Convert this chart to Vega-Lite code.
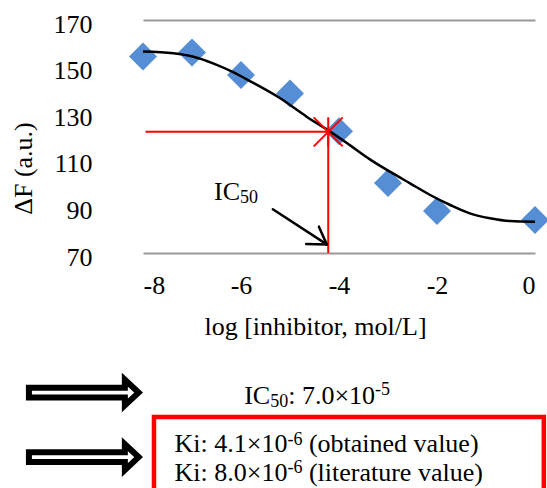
{
  "$schema": "https://vega.github.io/schema/vega-lite/v6.json",
  "width": 392,
  "height": 233,
  "autosize": {"type": "none"},
  "padding": {"left": 143, "top": 20, "right": 12, "bottom": 235},
  "background": "white",
  "config": {"view": {"stroke": null}, "font": "Liberation Serif"},
  "datasets": {
    "points": [
      {"log_conc": -8, "dF": 154.3},
      {"log_conc": -7, "dF": 156.1},
      {"log_conc": -6, "dF": 146.4},
      {"log_conc": -5, "dF": 138.5},
      {"log_conc": -4, "dF": 122.3},
      {"log_conc": -3, "dF": 100.0},
      {"log_conc": -2, "dF": 88.0},
      {"log_conc": 0, "dF": 84.2}
    ],
    "fit": [
      {"log_conc": -8.0, "dF": 156.5},
      {"log_conc": -7.38, "dF": 155.7},
      {"log_conc": -6.97, "dF": 154.2},
      {"log_conc": -6.57, "dF": 151.4},
      {"log_conc": -6.16, "dF": 147.6},
      {"log_conc": -5.82, "dF": 143.8},
      {"log_conc": -5.2, "dF": 136.4},
      {"log_conc": -4.66, "dF": 128.5},
      {"log_conc": -4.18, "dF": 122.1},
      {"log_conc": -3.78, "dF": 116.3},
      {"log_conc": -3.37, "dF": 110.2},
      {"log_conc": -2.96, "dF": 104.9},
      {"log_conc": -2.55, "dF": 99.9},
      {"log_conc": -2.14, "dF": 94.9},
      {"log_conc": -1.73, "dF": 90.6},
      {"log_conc": -1.33, "dF": 87.0},
      {"log_conc": -0.92, "dF": 84.9},
      {"log_conc": -0.51, "dF": 83.7},
      {"log_conc": 0, "dF": 83.4}
    ],
    "ic50_guides": [
      {"x": -7.95, "y": 122.0, "x2": -4.22, "y2": 122.0},
      {"x": -4.22, "y": 70, "x2": -4.22, "y2": 122.0}
    ],
    "ic50_point": [{"x": -4.22, "y": 122.0}],
    "pointer": [
      {"x": -5.35, "y": 88.8, "x2": -4.25, "y2": 73.7},
      {"x": -4.67, "y": 73.9, "x2": -4.25, "y2": 73.7},
      {"x": -4.41, "y": 81.3, "x2": -4.25, "y2": 73.7}
    ],
    "labels": [
      {"text": "IC", "x": -6.551, "y": 92.75, "role": "main"},
      {"text": "50", "x": -6.02, "y": 91.25, "role": "script"},
      {"text": "IC", "x": -5.935, "y": 5.2, "role": "main"},
      {"text": "50", "x": -5.404, "y": 3.9, "role": "script"},
      {"text": ": 7.0×10", "x": -5.037, "y": 5.2, "role": "main"},
      {"text": "-5", "x": -3.263, "y": 9.06, "role": "script"},
      {"text": "Ki: 4.1×10", "x": -7.357, "y": -15.6, "role": "main"},
      {"text": "-6", "x": -5.053, "y": -12.2, "role": "script"},
      {"text": "(obtained value)", "x": -4.614, "y": -15.6, "role": "main"},
      {"text": "Ki: 8.0×10", "x": -7.357, "y": -27.9, "role": "main"},
      {"text": "-6", "x": -5.053, "y": -24.6, "role": "script"},
      {"text": "(literature value)", "x": -4.614, "y": -27.9, "role": "main"}
    ],
    "block_arrows": [
      {"x": -9.194, "y": 10.1},
      {"x": -9.194, "y": -17.6}
    ],
    "ki_box": [{"x": -7.776, "x2": 0.18, "y": -0.4, "y2": -60}]
  },
  "layer": [
    {
      "data": {"name": "points"},
      "mark": {"type": "point", "shape": "diamond", "filled": true, "color": "#558ED5", "opacity": 1, "size": 784},
      "encoding": {
        "x": {
          "field": "log_conc", "type": "quantitative",
          "scale": {"domain": [-8, 0], "nice": false, "zero": false},
          "axis": {
            "values": [-8, -6, -4, -2, 0],
            "labelExpr": "datum.value < 0 ? '-' + abs(datum.value) : '' + datum.value",
            "labelFont": "Liberation Serif", "labelFontSize": 26, "labelColor": "black",
            "labelPadding": 19, "ticks": false, "tickSize": 0, "domain": false, "grid": false,
            "title": "log [inhibitor, mol/L]",
            "titleFont": "Liberation Serif", "titleFontSize": 26, "titleFontWeight": "normal", "titleColor": "black",
            "titleX": 172, "titleY": 81, "titleBaseline": "alphabetic", "titleAlign": "center", "titleAnchor": null
          }
        },
        "y": {
          "field": "dF", "type": "quantitative",
          "scale": {"domain": [70, 170], "nice": false, "zero": false},
          "axis": {
            "values": [70, 90, 110, 130, 150, 170],
            "labelFont": "Liberation Serif", "labelFontSize": 26, "labelColor": "black",
            "labelPadding": 51, "labelOffset": 4, "ticks": false, "tickSize": 0, "domain": false,
            "grid": true,
            "gridColor": {"condition": {"test": "datum.value === 70 || datum.value === 170", "value": "#999999"}, "value": "transparent"},
            "gridWidth": 2,
            "title": "ΔF (a.u.)",
            "titleFont": "Liberation Serif", "titleFontSize": 26, "titleFontWeight": "normal", "titleColor": "black",
            "titleX": -120, "titleY": 148, "titleAngle": 270, "titleBaseline": "middle", "titleAlign": "center", "titleAnchor": null
          }
        }
      }
    },
    {
      "data": {"name": "fit"},
      "mark": {"type": "line", "color": "black", "strokeWidth": 2.5, "interpolate": "monotone"},
      "encoding": {
        "x": {"field": "log_conc", "type": "quantitative", "scale": {"domain": [-8, 0], "nice": false, "zero": false}},
        "y": {"field": "dF", "type": "quantitative", "scale": {"domain": [70, 170], "nice": false, "zero": false}}
      }
    },
    {
      "data": {"name": "ic50_guides"},
      "mark": {"type": "rule", "color": "#FF0000", "strokeWidth": 2},
      "encoding": {
        "x": {"field": "x", "type": "quantitative", "scale": {"domain": [-8, 0], "nice": false, "zero": false}},
        "y": {"field": "y", "type": "quantitative", "scale": {"domain": [70, 170], "nice": false, "zero": false}},
        "x2": {"field": "x2"},
        "y2": {"field": "y2"}
      }
    },
    {
      "data": {"name": "ic50_point"},
      "mark": {"type": "point", "shape": "M-1,-1L1,1M-1,1L1,-1M0,-1L0,1", "filled": false, "stroke": "#FF0000", "strokeWidth": 2, "opacity": 1, "size": 841},
      "encoding": {
        "x": {"field": "x", "type": "quantitative", "scale": {"domain": [-8, 0], "nice": false, "zero": false}},
        "y": {"field": "y", "type": "quantitative", "scale": {"domain": [70, 170], "nice": false, "zero": false}}
      }
    },
    {
      "data": {"name": "pointer"},
      "mark": {"type": "rule", "color": "black", "strokeWidth": 2.5, "strokeCap": "round"},
      "encoding": {
        "x": {"field": "x", "type": "quantitative", "scale": {"domain": [-8, 0], "nice": false, "zero": false}},
        "y": {"field": "y", "type": "quantitative", "scale": {"domain": [70, 170], "nice": false, "zero": false}},
        "x2": {"field": "x2"},
        "y2": {"field": "y2"}
      }
    },
    {
      "data": {"name": "labels"},
      "transform": [{"filter": "datum.role === 'main'"}],
      "mark": {"type": "text", "font": "Liberation Serif", "fontSize": 26, "align": "left", "baseline": "alphabetic", "color": "black"},
      "encoding": {
        "x": {"field": "x", "type": "quantitative", "scale": {"domain": [-8, 0], "nice": false, "zero": false}},
        "y": {"field": "y", "type": "quantitative", "scale": {"domain": [70, 170], "nice": false, "zero": false}},
        "text": {"field": "text"}
      }
    },
    {
      "data": {"name": "labels"},
      "transform": [{"filter": "datum.role === 'script'"}],
      "mark": {"type": "text", "font": "Liberation Serif", "fontSize": 18, "align": "left", "baseline": "alphabetic", "color": "black"},
      "encoding": {
        "x": {"field": "x", "type": "quantitative", "scale": {"domain": [-8, 0], "nice": false, "zero": false}},
        "y": {"field": "y", "type": "quantitative", "scale": {"domain": [70, 170], "nice": false, "zero": false}},
        "text": {"field": "text"}
      }
    },
    {
      "data": {"name": "block_arrows"},
      "mark": {"type": "point", "shape": "M-0.95,-0.083L0.69,-0.083L0.69,-0.22L0.925,0L0.69,0.22L0.69,0.083L-0.95,0.083Z", "filled": true, "fill": "white", "stroke": "black", "strokeWidth": 6, "opacity": 1, "size": 13689},
      "encoding": {
        "x": {"field": "x", "type": "quantitative", "scale": {"domain": [-8, 0], "nice": false, "zero": false}},
        "y": {"field": "y", "type": "quantitative", "scale": {"domain": [70, 170], "nice": false, "zero": false}}
      }
    },
    {
      "data": {"name": "ki_box"},
      "mark": {"type": "rect", "filled": false, "fill": null, "stroke": "#FF0000", "strokeWidth": 4.5},
      "encoding": {
        "x": {"field": "x", "type": "quantitative", "scale": {"domain": [-8, 0], "nice": false, "zero": false}},
        "x2": {"field": "x2"},
        "y": {"field": "y", "type": "quantitative", "scale": {"domain": [70, 170], "nice": false, "zero": false}},
        "y2": {"field": "y2"}
      }
    }
  ]
}
